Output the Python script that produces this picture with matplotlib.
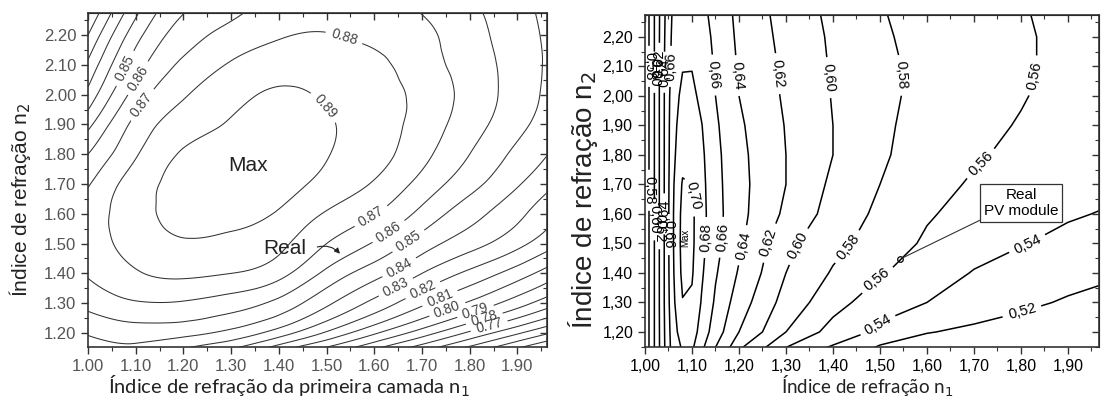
import matplotlib.pyplot as plt
import matplotlib.tri as mtri
import numpy as np
from matplotlib.ticker import MultipleLocator, FuncFormatter, NullFormatter

# ---- left map: efficiency vs n1 (first layer) and n2 ----
n1_left = [1.00, 1.10, 1.20, 1.30, 1.40, 1.50, 1.60, 1.70, 1.80, 1.90, 2.00]
n2_left = [1.10, 1.20, 1.30, 1.40, 1.50, 1.60, 1.70, 1.80, 1.90, 2.00, 2.10, 2.20, 2.30]
eff_left = [
    [0.840, 0.840, 0.825, 0.811, 0.790, 0.775, 0.759, 0.742, 0.7265, 0.709, 0.692],
    [0.851, 0.855, 0.853, 0.847, 0.835, 0.8185, 0.8015, 0.785, 0.768, 0.7515, 0.735],
    [0.863, 0.869, 0.869, 0.865, 0.857, 0.842, 0.827, 0.812, 0.7985, 0.7845, 0.769],
    [0.871, 0.879, 0.882, 0.880, 0.8735, 0.8575, 0.844, 0.830, 0.8175, 0.805, 0.790],
    [0.875, 0.884, 0.889, 0.888, 0.8825, 0.870, 0.859, 0.845, 0.834, 0.823, 0.809],
    [0.875, 0.886, 0.893, 0.893, 0.889, 0.879, 0.8705, 0.857, 0.844, 0.8325, 0.818],
    [0.869, 0.885, 0.893, 0.896, 0.894, 0.887, 0.879, 0.8665, 0.8535, 0.841, 0.828],
    [0.860, 0.879, 0.891, 0.895, 0.896, 0.8905, 0.884, 0.873, 0.860, 0.8475, 0.836],
    [0.847, 0.873, 0.885, 0.891, 0.894, 0.891, 0.885, 0.876, 0.8645, 0.853, 0.841],
    [0.833, 0.864, 0.879, 0.887, 0.891, 0.889, 0.8845, 0.877, 0.8665, 0.8555, 0.8435],
    [0.822, 0.855, 0.872, 0.881, 0.886, 0.886, 0.8825, 0.8745, 0.8655, 0.8555, 0.845],
    [0.810, 0.846, 0.865, 0.8735, 0.879, 0.8805, 0.8775, 0.8725, 0.864, 0.8545, 0.845],
    [0.797, 0.835, 0.858, 0.866, 0.874, 0.876, 0.874, 0.8685, 0.8615, 0.853, 0.844],
]
levels_left = [0.70, 0.71, 0.72, 0.73, 0.74, 0.75, 0.76, 0.77, 0.78, 0.79, 0.80,
               0.81, 0.82, 0.83, 0.84, 0.85, 0.86, 0.87, 0.88, 0.89]
# (level, n1, n2) where each label sits
labels_left = [
    (0.85, 1.073, 2.092), (0.86, 1.105, 2.055), (0.87, 1.115, 1.964),
    (0.88, 1.535, 2.183), (0.89, 1.49, 1.95),
    (0.87, 1.595, 1.587), (0.86, 1.633, 1.533), (0.85, 1.675, 1.50),
    (0.84, 1.648, 1.433), (0.83, 1.644, 1.358), (0.82, 1.70, 1.35),
    (0.81, 1.734, 1.33), (0.80, 1.749, 1.298), (0.79, 1.807, 1.30),
    (0.78, 1.826, 1.274), (0.77, 1.838, 1.24),
]
max_left = (1.335, 1.762)
real_left = (1.532, 1.459)

# ---- right map: efficiency vs n1 and n2 ----
n1_right = [1.00, 1.02, 1.04, 1.06, 1.08, 1.10, 1.12, 1.15, 1.20, 1.30,
            1.40, 1.50, 1.60, 1.70, 1.80, 1.90, 2.00]
n2_right = [1.10, 1.20, 1.30, 1.40, 1.50, 1.60, 1.70, 1.80, 1.90, 2.00, 2.10, 2.20, 2.30]
eff_right = [
    [.565, .600, .636, .668, .677, .677, .657, .631, .588, .542, .525, .500, .500, .499, .498, .497, .496],
    [.565, .600, .637, .672, .690, .690, .672, .650, .620, .580, .552, .536, .521, .516, .512, .509, .506],
    [.565, .600, .638, .676, .699, .697, .679, .657, .630, .592, .568, .548, .540, .531, .524, .518, .514],
    [.565, .600, .638, .678, .705, .702, .683, .662, .638, .600, .578, .562, .549, .539, .532, .527, .522],
    [.565, .600, .638, .679, .707, .704, .686, .666, .644, .605, .586, .571, .557, .547, .541, .535, .531],
    [.565, .600, .638, .679, .706, .704, .687, .667, .646, .616, .592, .576, .562, .553, .547, .542, .538],
    [.565, .600, .638, .678, .702, .700, .686, .666, .646, .620, .596, .580, .566, .558, .552, .547, .544],
    [.565, .600, .638, .676, .693, .694, .684, .665, .645, .620, .600, .583, .570, .562, .556, .552, .548],
    [.565, .600, .638, .675, .688, .690, .681, .663, .643, .619, .600, .584, .572, .564, .559, .554, .550],
    [.565, .600, .638, .673, .684, .685, .675, .660, .640, .617, .599, .585, .574, .566, .561, .555, .551],
    [.565, .600, .638, .668, .679, .679, .671, .658, .638, .616, .598, .585, .574, .567, .562, .556, .552],
    [.565, .600, .637, .666, .676, .676, .668, .656, .636, .614, .597, .583, .573, .567, .562, .556, .552],
    [.565, .600, .636, .663, .672, .672, .664, .654, .634, .612, .595, .581, .572, .566, .561, .555, .552],
]
levels_right = [0.52, 0.54, 0.56, 0.58, 0.60, 0.62, 0.64, 0.66, 0.68, 0.70]
labels_right = [
    (0.66, 1.143, 2.07), (0.64, 1.206, 2.07), (0.62, 1.281, 2.075),
    (0.60, 1.379, 2.06), (0.58, 1.536, 2.07), (0.56, 1.825, 2.07),
    (0.70, 1.094, 1.66), (0.68, 1.128, 1.52), (0.66, 1.17, 1.52),
    (0.64, 1.217, 1.49), (0.62, 1.266, 1.50), (0.60, 1.326, 1.49),
    (0.58, 1.43, 1.49), (0.56, 1.49, 1.385), (0.56, 1.72, 1.76),
    (0.54, 1.485, 1.245), (0.54, 1.813, 1.50), (0.52, 1.80, 1.28),
    # crowded labels in the steep band near n1 = 1
    (0.58, 1.008, 2.10), (0.60, 1.019, 2.08), (0.62, 1.030, 2.11),
    (0.64, 1.041, 2.08), (0.66, 1.052, 2.10),
    (0.58, 1.008, 1.68), (0.60, 1.019, 1.58), (0.62, 1.030, 1.55),
    (0.64, 1.041, 1.60), (0.66, 1.052, 1.53),
]
max_right = (1.085, 1.52)
real_right = (1.543, 1.447)


def grid_triangles(nx, ny):
    tris = []
    for j in range(ny - 1):
        for i in range(nx - 1):
            a = j * nx + i
            tris.append([a, a + 1, a + nx + 1])
            tris.append([a, a + nx + 1, a + nx])
    return tris


def smooth_field(n1, n2, eff):
    x, y = np.meshgrid(n1, n2)
    tri = mtri.Triangulation(x.ravel(), y.ravel(), grid_triangles(len(n1), len(n2)))
    refiner = mtri.UniformTriRefiner(tri)
    return refiner.refine_field(np.asarray(eff, dtype=float).ravel(), subdiv=4)


def style_axes(ax, fmt, size, color):
    for sp in ax.spines.values():
        sp.set_linewidth(1.2)
        sp.set_color('#333333')
    ax.xaxis.set_major_locator(MultipleLocator(0.1))
    ax.xaxis.set_minor_locator(MultipleLocator(0.05))
    ax.yaxis.set_major_locator(MultipleLocator(0.1))
    ax.yaxis.set_minor_locator(MultipleLocator(0.05))
    ax.xaxis.set_major_formatter(FuncFormatter(fmt))
    ax.yaxis.set_major_formatter(FuncFormatter(fmt))
    ax.tick_params(which='major', direction='out', length=5, width=1,
                   labelsize=size, labelcolor=color, color='#333333')
    ax.tick_params(which='minor', direction='out', length=3, width=0.8, color='#333333')
    for lab in ax.get_xticklabels() + ax.get_yticklabels():
        lab.set_family('Liberation Sans')
    # inward ticks on the top and right frame
    top = ax.secondary_xaxis('top')
    top.xaxis.set_major_locator(MultipleLocator(0.1))
    top.xaxis.set_minor_locator(MultipleLocator(0.05))
    top.xaxis.set_major_formatter(NullFormatter())
    top.tick_params(which='major', direction='in', length=5, width=1, color='#333333')
    top.tick_params(which='minor', direction='in', length=3, width=0.8, color='#333333')
    right = ax.secondary_yaxis('right')
    right.yaxis.set_major_locator(MultipleLocator(0.1))
    right.yaxis.set_minor_locator(MultipleLocator(0.05))
    right.yaxis.set_major_formatter(NullFormatter())
    right.tick_params(which='major', direction='in', length=5, width=1, color='#333333')
    right.tick_params(which='minor', direction='in', length=3, width=0.8, color='#333333')


def draw_levels(ax, contour_fn, levels, spots, fmt, lw, line_color, size, text_color):
    # one contour set per level so every label lands on its own line
    for lvl in levels:
        cs = contour_fn(levels=[lvl], colors=line_color, linewidths=lw)
        here = [(x, y) for v, x, y in spots if v == lvl]
        if here:
            texts = ax.clabel(cs, manual=here, inline=True, fmt=fmt,
                              fontsize=size, colors=text_color, inline_spacing=3)
            for t in texts:
                t.set_family('Liberation Sans')


fig = plt.figure(figsize=(11.01, 4.03), dpi=100)

# left panel, smoothed with a cubic refinement of the grid
ax1 = fig.add_axes([0.0799, 0.139, 0.4169, 0.8288])
tl, zl = smooth_field(n1_left, n2_left, eff_left)
draw_levels(ax1, lambda **kw: ax1.tricontour(tl, zl, **kw), levels_left, labels_left,
            '%.2f', 0.75, '#333333', 10, '#444444')
ax1.set_xlim(1.0, 1.962)
ax1.set_ylim(1.153, 2.274)
style_axes(ax1, lambda v, p: f"{v:.2f}", 12, '#555555')
ax1.text(max_left[0], max_left[1], 'Max', fontsize=15, ha='center', va='center',
         family='Liberation Sans', color='#222222')
ax1.annotate('', xy=real_left, xytext=(1.475, 1.486),
             arrowprops=dict(arrowstyle='-|>', connectionstyle='arc3,rad=-0.35',
                             lw=0.8, color='#222222', mutation_scale=8))
ax1.text(1.412, 1.483, 'Real', fontsize=15, ha='center', va='center',
         family='Liberation Sans', color='#222222')

# right panel, contoured straight from the grid
comma = lambda v, p=None: f"{v:.2f}".replace('.', ',')
ax2 = fig.add_axes([0.5858, 0.139, 0.4124, 0.8238])
draw_levels(ax2, lambda **kw: ax2.contour(n1_right, n2_right, eff_right, **kw),
            levels_right, labels_right, comma, 1.1, 'black', 10.5, 'black')
ax2.set_xlim(1.0, 1.966)
ax2.set_ylim(1.149, 2.274)
style_axes(ax2, comma, 11.5, 'black')
ax2.text(max_right[0], max_right[1], 'Max', fontsize=7, rotation=90,
         ha='center', va='center', family='Liberation Sans')
ax2.plot(real_right[0], real_right[1], marker='o', ms=4, mfc='none', mec='black', mew=0.9)
ax2.annotate('Real\nPV module', xy=real_right, xytext=(1.80, 1.636),
             ha='center', va='center', fontsize=11, family='Liberation Sans',
             bbox=dict(boxstyle='square,pad=0.25', fc='white', ec='#333333', lw=0.9),
             arrowprops=dict(arrowstyle='-', lw=0.8, color='#333333',
                             relpos=(0.0, 0.0), shrinkA=0, shrinkB=2))

# axis titles
fig.text(20 / 1101, 1 - 200 / 403, 'Índice de refração n$_2$', rotation=90,
         ha='center', va='center', fontsize=15, family='Liberation Sans', color='#222222')
fig.text(583 / 1101, 1 - 200 / 403, 'Índice de refração n$_2$', rotation=90,
         ha='center', va='center', fontsize=20, family='Liberation Sans', color='#222222')
fig.text(289 / 1101, 1 - 386 / 403, 'Índice de refração da primeira camada n$_1$',
         ha='center', va='center', fontsize=14.5, family='Lato', color='#222222')
fig.text(867 / 1101, 1 - 386 / 403, 'Índice de refração n$_1$',
         ha='center', va='center', fontsize=13.5, family='Lato', color='#222222')

fig.savefig('out.png', dpi=100)
